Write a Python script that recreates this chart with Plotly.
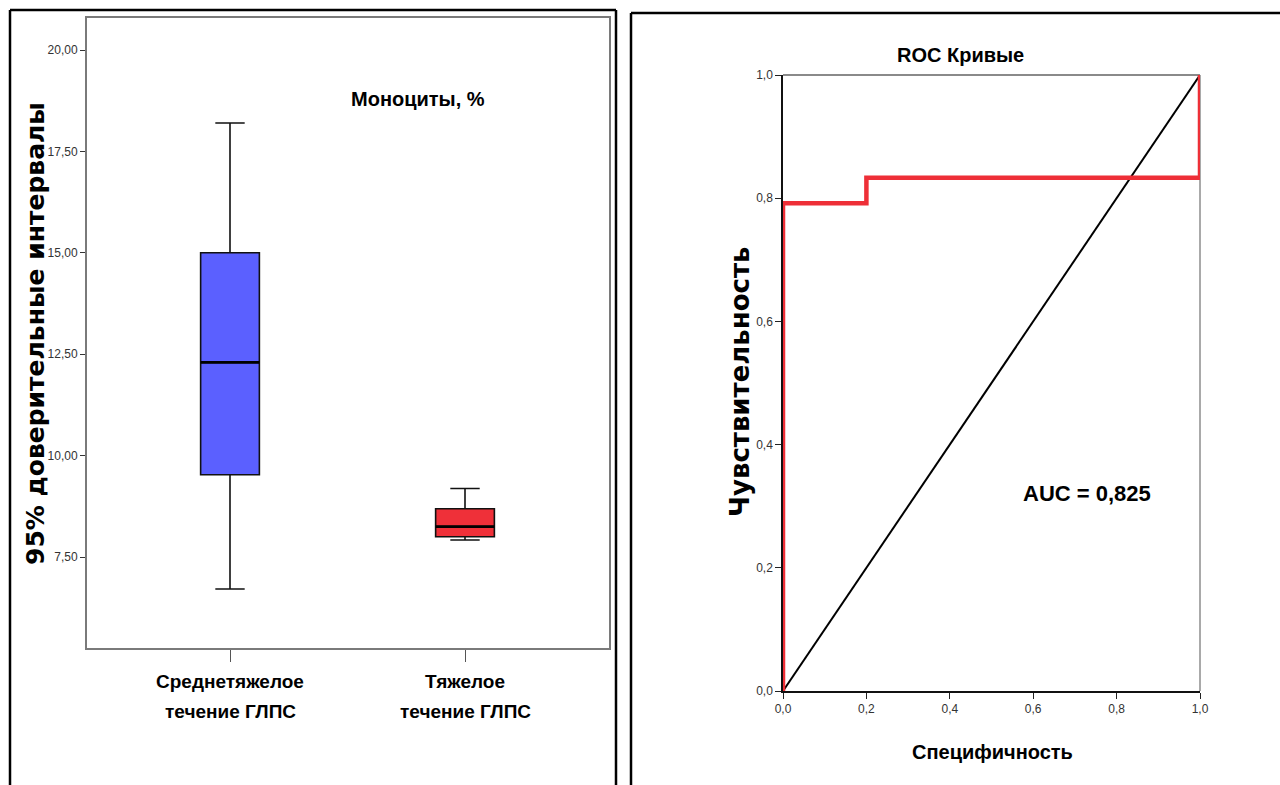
import plotly.graph_objects as go

W, H = 1280, 785

# ---- Box plot data: monocytes, % ----
group_line1 = ["Среднетяжелое", "Тяжелое"]
group_line2 = ["течение ГЛПС", "течение ГЛПС"]
box_pos = [0, 1]
lower_fence = [6.71, 7.92]
q1 = [9.53, 8.00]
median = [12.30, 8.25]
q3 = [15.00, 8.69]
upper_fence = [18.20, 9.19]
box_colors = ["#5b60ff", "#ef3039"]

y_ticks = [7.5, 10.0, 12.5, 15.0, 17.5, 20.0]
y_ticktext = ["7,50", "10,00", "12,50", "15,00", "17,50", "20,00"]

# ---- ROC curve data ----
roc_fpr = [0.0, 0.0, 0.2, 0.2, 1.0, 1.0]
roc_tpr = [0.0, 0.792, 0.792, 0.833, 0.833, 1.0]
ref_x = [0.0, 1.0]
ref_y = [0.0, 1.0]
auc_value = "0,825"
roc_ticks = [0.0, 0.2, 0.4, 0.6, 0.8, 1.0]
roc_ticktext = ["0,0", "0,2", "0,4", "0,6", "0,8", "1,0"]

SANS = "Liberation Sans, Arial, sans-serif"
WIDE = "DejaVu Sans, Verdana, sans-serif"
BOX_WIDTH = 0.25


def px(x):
    """Pixel column -> paper fraction."""
    return x / W


def py(y):
    """Pixel row -> paper fraction."""
    return 1 - y / H


fig = go.Figure()

for i in range(len(box_pos)):
    fig.add_trace(go.Box(
        x=[box_pos[i]], q1=[q1[i]], median=[median[i]], q3=[q3[i]],
        lowerfence=[lower_fence[i]], upperfence=[upper_fence[i]],
        fillcolor=box_colors[i], line=dict(color="#111111", width=1.6),
        width=BOX_WIDTH, whiskerwidth=0.5, boxpoints=False,
        xaxis="x", yaxis="y", showlegend=False, hoverinfo="skip",
    ))
    # heavier median stroke across the box
    half = BOX_WIDTH / 2
    fig.add_trace(go.Scatter(
        x=[box_pos[i] - half, box_pos[i] + half], y=[median[i], median[i]],
        mode="lines", line=dict(color="#000000", width=2.6),
        xaxis="x", yaxis="y", showlegend=False, hoverinfo="skip",
    ))

fig.add_trace(go.Scatter(
    x=ref_x, y=ref_y, mode="lines", line=dict(color="#000000", width=2),
    xaxis="x2", yaxis="y2", showlegend=False, hoverinfo="skip",
))
fig.add_trace(go.Scatter(
    x=roc_fpr, y=roc_tpr, mode="lines", line=dict(color="#ee2f37", width=4.5),
    xaxis="x2", yaxis="y2", showlegend=False, hoverinfo="skip",
))

# box plot category axis: centres of the two groups sit at 230 px and 465 px
unit = 465 - 230
x_lo = 0 - (230 - 87) / unit
x_hi = 1 + (609 - 465) / unit

tick_font = dict(family=SANS, size=12, color="#333333")

fig.update_layout(
    width=W, height=H,
    margin=dict(l=0, r=0, t=0, b=0),
    paper_bgcolor="white", plot_bgcolor="white",
    xaxis=dict(
        domain=[px(87), px(609)], range=[x_lo, x_hi],
        tickvals=box_pos, ticktext=["", ""],
        ticks="outside", ticklen=12, tickcolor="#555555", tickwidth=1,
        showline=True, linecolor="#7a7a7a", linewidth=2, mirror=True,
        showgrid=False, zeroline=False, fixedrange=True, automargin=False,
    ),
    yaxis=dict(
        domain=[py(648), py(18)], range=[5.257, 20.789],
        tickvals=y_ticks, ticktext=y_ticktext,
        ticks="outside", ticklen=5, tickcolor="#333333", tickwidth=1,
        tickfont=tick_font,
        showline=True, linecolor="#7a7a7a", linewidth=2, mirror=True,
        showgrid=False, zeroline=False, fixedrange=True, automargin=False,
    ),
    xaxis2=dict(
        domain=[px(783), px(1200)], range=[0, 1],
        tickvals=roc_ticks, ticktext=roc_ticktext,
        ticks="outside", ticklen=6, tickcolor="#222222", tickwidth=1,
        tickfont=tick_font,
        showline=True, linecolor="#111111", linewidth=1.5,
        showgrid=False, zeroline=False, fixedrange=True, anchor="y2",
        automargin=False,
    ),
    yaxis2=dict(
        domain=[py(691), py(75)], range=[0, 1],
        tickvals=roc_ticks, ticktext=roc_ticktext,
        ticks="outside", ticklen=6, tickcolor="#222222", tickwidth=1,
        tickfont=tick_font,
        showline=True, linecolor="#111111", linewidth=1.5,
        showgrid=False, zeroline=False, fixedrange=True, anchor="x2",
        automargin=False,
    ),
)

# outer panel frames, open towards the bottom / right page edges
frame = dict(color="#000000", width=2.5)
shapes = [
    dict(type="line", xref="paper", yref="paper", x0=px(10), x1=px(10),
         y0=0, y1=py(10), line=frame),
    dict(type="line", xref="paper", yref="paper", x0=px(616), x1=px(616),
         y0=0, y1=py(10), line=frame),
    dict(type="line", xref="paper", yref="paper", x0=px(10), x1=px(616),
         y0=py(10), y1=py(10), line=frame),
    dict(type="line", xref="paper", yref="paper", x0=px(631), x1=px(631),
         y0=0, y1=py(13), line=frame),
    dict(type="line", xref="paper", yref="paper", x0=px(631), x1=1,
         y0=py(13), y1=py(13), line=frame),
    # light top and right edges of the ROC frame
    dict(type="line", xref="x2 domain", yref="y2 domain",
         x0=0, x1=1, y0=1, y1=1, line=dict(color="#8a8a8a", width=2),
         layer="below"),
    dict(type="line", xref="x2 domain", yref="y2 domain",
         x0=1, x1=1, y0=0, y1=1, line=dict(color="#555555", width=1),
         layer="below"),
]
fig.update_layout(shapes=shapes)


def label(text, x, y, size, family=SANS, angle=0, xref="paper"):
    return dict(text="<b>" + text + "</b>", x=x, y=y, xref=xref, yref="paper",
                xanchor="center", yanchor="middle", textangle=angle,
                showarrow=False, font=dict(family=family, size=size, color="#000000"))


annotations = [
    label("Моноциты, %", px(418), py(99), 20),
    label("95% доверительные интервалы", px(35), py(334), 25, WIDE, -90),
    label("ROC Кривые", px(960), py(55), 20),
    label("Чувствительность", px(740), py(382), 26, WIDE, -90),
    label("Специфичность", px(992), py(752), 20),
    label("AUC = " + auc_value, px(1087), py(493), 22),
]
# two-line category labels under the box plot
for i in range(len(box_pos)):
    annotations.append(label(group_line1[i], box_pos[i], py(681), 19, xref="x"))
    annotations.append(label(group_line2[i], box_pos[i], py(711), 19, xref="x"))
fig.update_layout(annotations=annotations)

fig.write_html("out.html", config={"displayModeBar": False})
